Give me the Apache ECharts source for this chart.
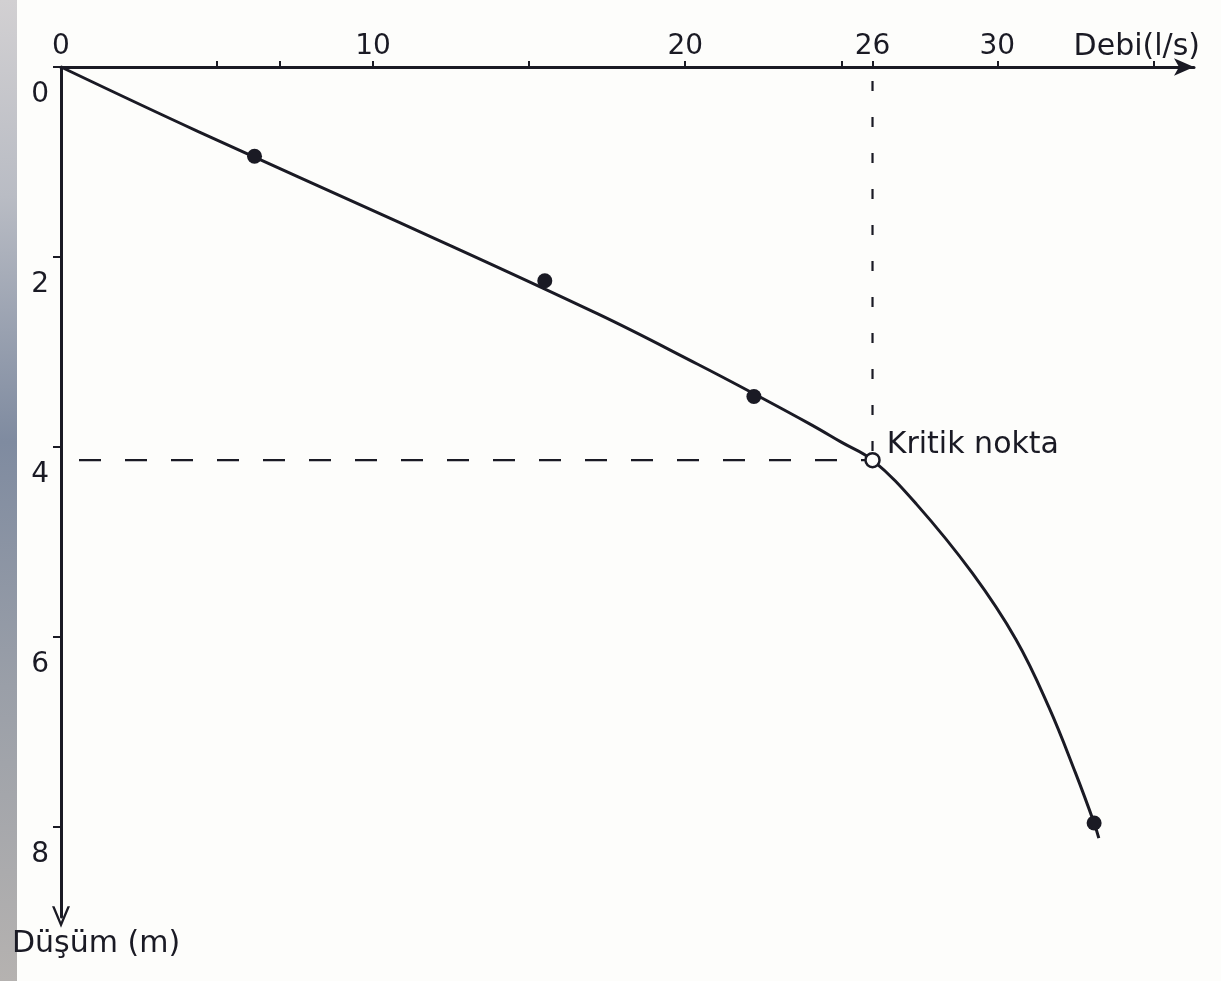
<!DOCTYPE html>
<html>
<head>
<meta charset="utf-8">
<script src="https://cdn.jsdelivr.net/npm/echarts@6/dist/echarts.min.js"></script>
<style>
html,body{margin:0;padding:0;background:#fdfdfb;}
#c{width:1221px;height:981px;}
</style>
</head>
<body>
<div id="c"></div>
<script>
// ---- data ----
const xLabelValues = [0, 10, 20, 26, 30];
const xTickValues = [5, 7, 10, 15, 20, 25, 26, 30, 35];
const yLabelValues = [0, 2, 4, 6, 8];
const xAxisName = 'Debi(l/s)';
const yAxisName = 'Düşüm (m)';

// measured points (discharge l/s, drawdown m)
const measuredQ = [6.2, 15.5, 22.2, 33.1];
const measuredS = [0.94, 2.25, 3.47, 7.96];

// critical point
const criticalQ = 26;
const criticalS = 4.14;
const criticalLabel = 'Kritik nokta';

// fitted curve
const curveQ = [0, 4.4, 10.8, 17.2, 20.4, 22.2, 24.0, 25.0, 26.0, 27.4, 29.2, 30.6, 31.65, 32.5, 33.1, 33.25];
const curveS = [0, 0.68, 1.63, 2.6, 3.13, 3.44, 3.76, 3.95, 4.14, 4.60, 5.33, 6.03, 6.74, 7.43, 7.96, 8.12];

const ink = '#1a1a24';
const font = 'DejaVu Sans';

const zip = (a, b) => a.map((v, i) => [v, b[i]]);

const chart = echarts.init(document.getElementById('c'));
chart.setOption({
  backgroundColor: '#fdfdfb',
  animation: false,
  grid: { left: 61, top: 67, right: 27, bottom: 64 },
  xAxis: {
    type: 'value',
    position: 'top',
    min: 0,
    max: 36.3,
    splitLine: { show: false },
    axisLine: {
      onZero: false,
      lineStyle: { color: ink, width: 3 },
      symbol: ['none', 'arrow'],
      symbolSize: [13, 20]
    },
    axisTick: { show: true, length: 6, lineStyle: { color: ink, width: 2 }, customValues: xTickValues },
    axisLabel: {
      customValues: xLabelValues,
      color: ink, fontFamily: font, fontSize: 28, margin: 6
    },
    name: xAxisName,
    nameLocation: 'end',
    nameGap: 0,
    nameTextStyle: { color: ink, fontFamily: font, fontSize: 30, align: 'right', verticalAlign: 'bottom', padding: [0, -6, 5, 0] }
  },
  yAxis: {
    type: 'value',
    inverse: true,
    min: 0,
    max: 8.95,
    splitLine: { show: false },
    axisLine: {
      onZero: false,
      lineStyle: { color: ink, width: 3 },
      symbol: ['path://M5,0 L10,12 L8.6,12 L5,3.4 L1.4,12 L0,12 Z', 'none'],
      symbolSize: [18, 22]
    },
    axisTick: { show: true, length: 8, lineStyle: { color: ink, width: 2 }, customValues: yLabelValues },
    axisLabel: {
      customValues: yLabelValues,
      color: ink, fontFamily: font, fontSize: 28, margin: 12,
      verticalAlign: 'top', padding: [14, 0, 0, 0]
    }
  },
  graphic: [
    {
      type: 'rect', left: 0, top: 0, z: -1,
      shape: { width: 17, height: 981 },
      style: {
        fill: new echarts.graphic.LinearGradient(0, 0, 0, 1, [
          { offset: 0, color: '#d2d0d2' },
          { offset: 0.2, color: '#b9bcc4' },
          { offset: 0.45, color: '#7f8ba0' },
          { offset: 0.7, color: '#9a9fa8' },
          { offset: 1, color: '#b5b2b0' }
        ])
      }
    },
    {
      type: 'text', left: 12, top: 929,
      style: { text: yAxisName, fill: ink, font: '30px "DejaVu Sans"' }
    }
  ],
  series: [
    {
      type: 'line',
      data: zip(curveQ, curveS),
      smooth: 0.4,
      showSymbol: false,
      lineStyle: { color: ink, width: 3 },
      z: 3
    },
    {
      type: 'line',
      data: [[0, criticalS], [criticalQ, criticalS]],
      showSymbol: false,
      lineStyle: { color: ink, width: 2.2, type: [22, 24], dashOffset: -18 },
      z: 2
    },
    {
      type: 'line',
      data: [[criticalQ, 0], [criticalQ, criticalS]],
      showSymbol: false,
      lineStyle: { color: ink, width: 2.2, type: [10, 26], dashOffset: -14 },
      z: 2
    },
    {
      type: 'scatter',
      data: zip(measuredQ, measuredS),
      symbol: 'circle',
      symbolSize: 15,
      itemStyle: { color: ink, opacity: 1 },
      z: 5
    },
    {
      type: 'scatter',
      data: [[criticalQ, criticalS]],
      symbol: 'circle',
      symbolSize: 14,
      itemStyle: { color: '#fdfdfb', borderColor: ink, borderWidth: 2.5, opacity: 1 },
      label: {
        show: true, position: 'right', distance: 6, offset: [0, -15],
        formatter: criticalLabel,
        color: ink, fontFamily: font, fontSize: 30, opacity: 1
      },
      z: 6
    }
  ]
});
</script>
</body>
</html>
